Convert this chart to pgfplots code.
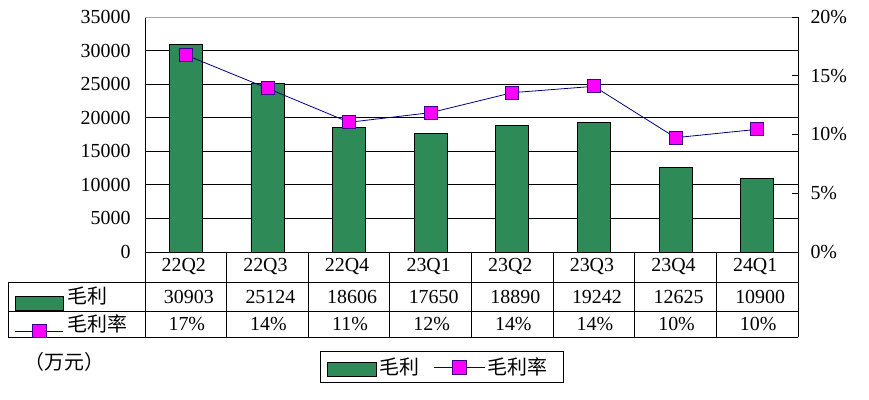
\documentclass[border=0pt]{standalone}
\usepackage{pgfplots}
\pgfplotsset{compat=1.18}
\usepackage{fontspec}
\setmainfont{Liberation Serif}
\newfontfamily\cjk{Noto Sans CJK SC}
\definecolor{bargreen}{RGB}{46,139,87}
\definecolor{linenavy}{RGB}{0,0,128}
\definecolor{mkmag}{RGB}{255,0,255}
\definecolor{mkedge}{RGB}{60,0,140}
\begin{document}
\begin{tikzpicture}
\useasboundingbox (0,0) rectangle (869bp,-400bp);
\begin{axis}[
  at={(145bp,-252bp)}, anchor=south west,
  scale only axis, width=653bp, height=235bp,
  xmin=-0.5, xmax=7.5, ymin=0, ymax=35000,
  xtick=\empty,
  ytick={0,5000,...,35000},
  yticklabel style={font=\fontsize{20}{21}\selectfont, xshift=-11bp},
  /pgf/number format/assume math mode=true,
  scaled y ticks=false,
  yticklabel={\pgfmathprintnumber[fixed,1000 sep={}]{\tick}},
  ymajorgrids, grid style={black, line width=0.9pt},
  major tick length=0pt,
  axis y line*=left, axis x line*=bottom,
  axis line style={black, line width=0.9pt, -},
  clip=false,
]
\addplot[ybar, bar width=33bp, fill=bargreen, draw=black, line width=0.7pt]
  coordinates {(0,30903) (1,25124) (2,18606) (3,17650) (4,18890) (5,19242) (6,12625) (7,10900)};
\draw[gray!70, line width=0.9pt] (axis cs:-0.5,35000) -- (axis cs:7.5,35000);
\end{axis}
\begin{axis}[
  at={(145bp,-252bp)}, anchor=south west,
  scale only axis, width=653bp, height=235bp,
  xmin=-0.5, xmax=7.5, ymin=0, ymax=20,
  xtick=\empty,
  ytick={0,5,...,20},
  axis y line*=right, axis x line=none,
  axis line style={black, line width=0.9pt, -},
  yticklabel style={font=\fontsize{20}{21}\selectfont, xshift=9bp},
  /pgf/number format/assume math mode=true,
  yticklabel={\pgfmathprintnumber{\tick}\%},
  tick style={black, line width=0.9pt},
  major tick length=6bp, tick align=inside,
  clip=false,
]
\addplot[linenavy, line width=0.8pt, mark=square*, mark size=6.5bp,
  mark options={fill=mkmag, draw=mkedge, line width=0.7pt}]
  coordinates {(0,16.77) (1,13.93) (2,11.04) (3,11.86) (4,13.56) (5,14.1) (6,9.73) (7,10.44)};
\end{axis}
\begin{scope}[x=1bp,y=-1bp, line width=0.9pt]
  % table grid
  \draw (145,252) -- (145,337);
  \draw (798,252) -- (798,337);
  \draw (8,282) -- (798,282);
  \draw (8,311) -- (798,311);
  \draw (8,337) -- (798,337);
  \draw (8,282) -- (8,337);
  \foreach \i in {1,...,7} { \draw ({145+\i*81.625},252) -- ({145+\i*81.625},337); }
  \foreach \lab [count=\i from 0] in {22Q2,22Q3,22Q4,23Q1,23Q2,23Q3,23Q4,24Q1}
    \node[font=\fontsize{20}{21}\selectfont] at ({143+(\i+0.5)*81.625},267) {\lab};
  \foreach \v [count=\i from 0] in {30903,25124,18606,17650,18890,19242,12625,10900}
    \node[font=\fontsize{20}{21}\selectfont] at ({148+(\i+0.5)*81.625},297) {\v};
  \foreach \v [count=\i from 0] in {17,14,11,12,14,14,10,10}
    \node[font=\fontsize{20}{21}\selectfont] at ({146+(\i+0.5)*81.625},324.5) {\v\%};
  % row keys
  \filldraw[fill=bargreen, draw=black, line width=0.7pt] (15,296) rectangle (63,310);
  \node[anchor=west, font=\cjk\fontsize{20}{21}\selectfont, inner sep=0] at (67,295.5) {毛利};
  \draw[linenavy, line width=0.8pt] (15,331) -- (63,331);
  \filldraw[fill=mkmag, draw=mkedge, line width=0.7pt] (32.5,324) rectangle (46.5,337);
  \node[anchor=west, font=\cjk\fontsize{20}{21}\selectfont, inner sep=0] at (67,323.5) {毛利率};
  % unit
  \node[anchor=west, font=\cjk\fontsize{20}{21}\selectfont, inner sep=0] at (24,362) {（万元）};
  % legend box
  \draw[line width=0.8pt] (320,351) rectangle (563,382);
  \filldraw[fill=bargreen, draw=black, line width=0.7pt] (327,362) rectangle (376,376);
  \node[anchor=west, font=\cjk\fontsize{20}{21}\selectfont, inner sep=0] at (379,367) {毛利};
  \draw[linenavy, line width=0.8pt] (434,367) -- (485,367);
  \filldraw[fill=mkmag, draw=mkedge, line width=0.7pt] (452.5,360.5) rectangle (466.5,374);
  \node[anchor=west, font=\cjk\fontsize{20}{21}\selectfont, inner sep=0] at (487,367) {毛利率};
\end{scope}
\end{tikzpicture}
\end{document}
